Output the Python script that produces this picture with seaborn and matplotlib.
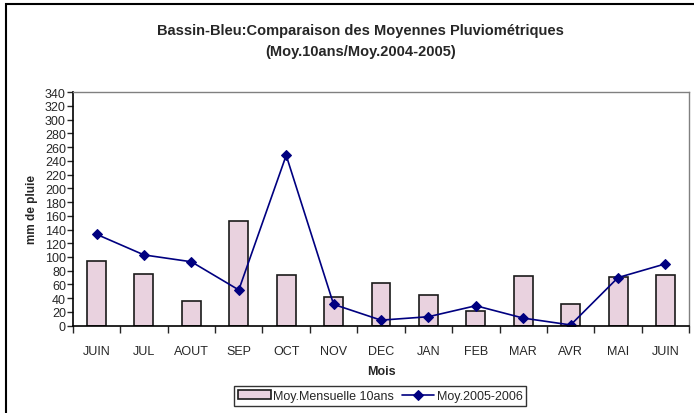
import matplotlib.pyplot as plt
import numpy as np
import pandas as pd
import seaborn as sns
from matplotlib.patches import Rectangle
from matplotlib.ticker import MultipleLocator, FixedLocator

# Chart data
mois = ['JUIN', 'JUL', 'AOUT', 'SEP', 'OCT', 'NOV', 'DEC', 'JAN', 'FEB', 'MAR', 'AVR', 'MAI', 'JUIN']
moy_10ans = [94, 75, 36, 153, 74, 42, 62, 44, 22, 72, 31, 71, 74]
moy_2005_2006 = [133, 103, 93, 52, 248, 31, 8, 13, 29, 11, 1, 70, 90]

sns.set_theme(style='white')
plt.rcParams['font.family'] = ['Liberation Sans', 'DejaVu Sans']

df = pd.DataFrame({'pos': np.arange(len(mois)), 'mois': mois,
                   'moy10': moy_10ans, 'moy0506': moy_2005_2006})

fig = plt.figure(figsize=(6.94, 4.14), dpi=100)
ax = fig.add_axes([0.105, 0.211, 0.888, 0.564])

sns.barplot(data=df, x='pos', y='moy10', ax=ax, width=0.4, color='#e9d2df',
            saturation=1, edgecolor='#1a1a1a', linewidth=1.2,
            label='Moy.Mensuelle 10ans')
sns.lineplot(data=df, x='pos', y='moy0506', ax=ax, color='#000080', linewidth=1.2,
             marker='D', markersize=5, markeredgecolor='#000080',
             label='Moy.2005-2006')

ax.set_xlim(-0.5, len(mois) - 0.5)
ax.set_ylim(0, 340)
ax.yaxis.set_major_locator(MultipleLocator(20))
ax.set_xticks(np.arange(len(mois)))
ax.set_xticklabels(mois)
ax.xaxis.set_minor_locator(FixedLocator(np.arange(len(mois) + 1) - 0.5))
ax.tick_params(axis='x', which='major', length=0, labelsize=9, pad=14)
ax.tick_params(axis='x', which='minor', length=5, width=1, direction='out', bottom=True)
ax.tick_params(axis='y', length=4, width=1, direction='out', left=True, labelsize=9, pad=1)

for side in ['left', 'bottom']:
    ax.spines[side].set_color('black')
    ax.spines[side].set_linewidth(1.2)
for side in ['top', 'right']:
    ax.spines[side].set_color('#808080')
    ax.spines[side].set_linewidth(1)

ax.set_xlabel('Mois', fontsize=9, fontweight='bold', labelpad=6)
ax.set_ylabel('mm de pluie', fontsize=8.5, fontweight='bold', labelpad=5)

fig.text(0.52, 0.925, 'Bassin-Bleu:Comparaison des Moyennes Pluviométriques',
         ha='center', va='center', fontsize=10.5, fontweight='bold')
fig.text(0.52, 0.875, '(Moy.10ans/Moy.2004-2005)',
         ha='center', va='center', fontsize=10.5, fontweight='bold')

ax.get_legend().remove()
handles, labels = ax.get_legend_handles_labels()
order = [labels.index('Moy.Mensuelle 10ans'), labels.index('Moy.2005-2006')]
leg = fig.legend([handles[i] for i in order], [labels[i] for i in order],
                 loc='center', bbox_to_anchor=(0.548, 0.041), ncol=2,
                 fontsize=9, frameon=True, fancybox=False, handlelength=2.6,
                 handletextpad=0.2, columnspacing=0.6, borderpad=0.3)
leg.get_frame().set_edgecolor('black')
leg.get_frame().set_linewidth(1)

# chart area border
fig.patches.append(Rectangle((6 / 694, -0.1), 1.1, 1 - 5 / 414 + 0.1,
                             transform=fig.transFigure, fill=False,
                             edgecolor='black', linewidth=1.5))

fig.savefig('out.png', dpi=100)
